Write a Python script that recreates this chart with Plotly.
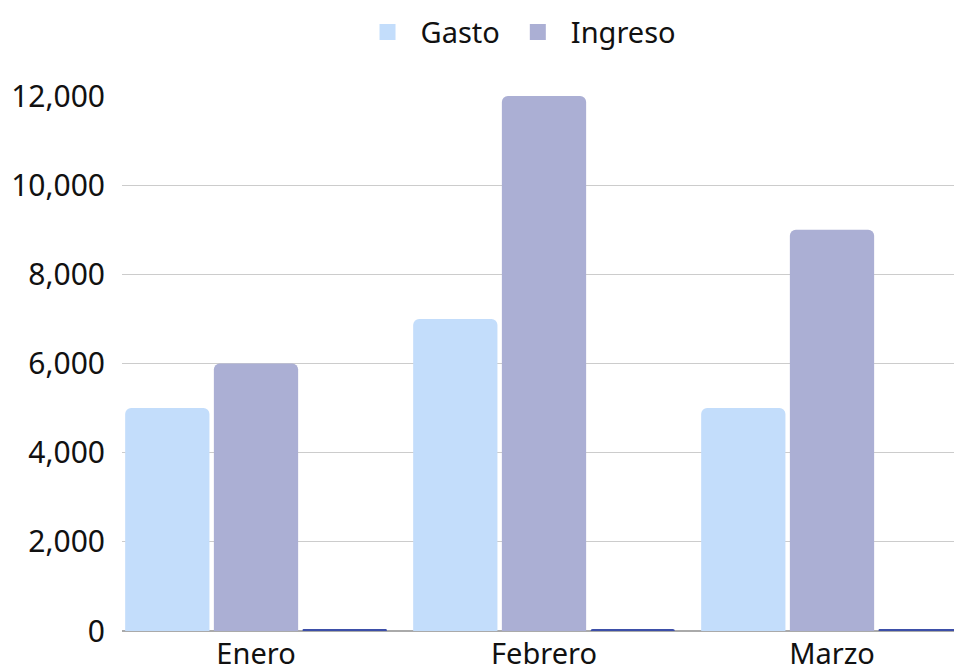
import plotly.graph_objects as go

categories = ["Enero", "Febrero", "Marzo"]
gasto = [5000, 7000, 5000]
ingreso = [6000, 12000, 9000]
otro = [30, 45, 30]
y_ticks = [0, 2000, 4000, 6000, 8000, 10000, 12000]

FONT = "Noto Sans"
C_GASTO = "#C3DDFB"
C_INGRESO = "#ABAFD4"
C_OTRO = "#3D4FA8"

fig = go.Figure()
fig.add_trace(go.Bar(x=categories, y=gasto, name="Gasto", marker_color=C_GASTO,
                     marker_line_width=0, showlegend=False))
fig.add_trace(go.Bar(x=categories, y=ingreso, name="Ingreso", marker_color=C_INGRESO,
                     marker_line_width=0, showlegend=False))
fig.add_trace(go.Bar(x=categories, y=otro, name="Otro", marker_color=C_OTRO,
                     marker_line_width=0, showlegend=False))
# legend entries with larger square markers
for nm, col in [("Gasto", C_GASTO), ("Ingreso", C_INGRESO)]:
    fig.add_trace(go.Scatter(x=[None], y=[None], mode="markers", name=nm,
                             marker=dict(symbol="square", size=20, color=col)))

fig.update_layout(
    width=954, height=667,
    margin=dict(l=122, r=0, t=96, b=36),
    paper_bgcolor="white", plot_bgcolor="white",
    barmode="group", bargap=0.076, bargroupgap=0.05,
    barcornerradius=6,
    font=dict(family=FONT, size=28, color="#111111"),
    legend=dict(orientation="h", xref="container", x=0.543, xanchor="center",
                yref="container", y=0.99, yanchor="top",
                font=dict(size=29, color="#111111"), itemsizing="trace",
                itemwidth=56),
    xaxis=dict(range=[-0.4653, 2.4236], showgrid=False, showline=False, ticks="",
               tickfont=dict(size=29), ticklabelstandoff=3, automargin=False),
    yaxis=dict(range=[0, 12000], tickvals=y_ticks, tickformat=",", showgrid=True,
               gridcolor="#CCCCCC", gridwidth=1, zeroline=True, zerolinecolor="#AAAAAA",
               zerolinewidth=2, showline=False, ticks="", tickfont=dict(size=30),
               ticklabelstandoff=16, automargin=False),
)

fig.write_html("out.html", config={"displayModeBar": False},
               post_script="document.body.style.margin='0';document.body.style.padding='0';")
